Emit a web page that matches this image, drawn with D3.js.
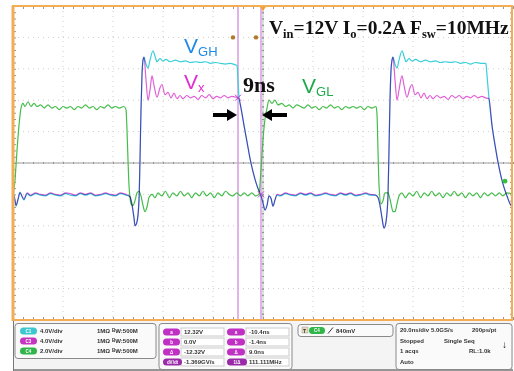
<!DOCTYPE html>
<html>
<head>
<meta charset="utf-8">
<script src="https://cdn.jsdelivr.net/npm/d3@7"></script>
<style>
  body { margin: 0; background: #fff; }
  svg { display: block; }
  .trace { fill: none; stroke-width: 1.2; mix-blend-mode: multiply; stroke-linejoin: round; }
  .panel text { font-family: "Liberation Sans", Arial, sans-serif; font-weight: bold; font-size: 6px; fill: #333; }
</style>
</head>
<body>
<svg id="scope" width="514" height="371"></svg>
<script>
// time in ns (20 ns/div, 10 div), value in volts
const vgh = [
  [0,0.5],[0.8,-0.7],[1.2,-1.5],[2,-0.7],[2.8,0.3],[3.6,-0.3],[4.4,-0.7],[5.6,0.1],[7,-0.2],[9,0.1],
  [11,-0.1],[13,-0.2],[15,0.1],[17,-0.1],[19,-0.2],[21,0.1],[23,-0.1],[25,-0.2],[27,0.1],[29,-0.1],
  [31,0.1],[33,-0.2],[35,-0.1],[37,0.1],[39,-0.1],[41,-0.2],[43,0.1],[45.2,-0.1],[46.8,-0.3],[47.6,-1.3],
  [48.4,-3.0],[48.8,-4.0],[49.6,-3.5],[50.4,-0.7],[50.8,4.4],[51.2,10.8],[51.6,15.2],[52,17.1],[52.4,17.5],
  [53.2,16.6],[54,16.1],[54.8,17.1],[56,18.3],[56.8,17.6],[57.6,16.9],[58.8,17.3],[60,17.0],[61.2,17.2],
  [62.8,16.9],[65,17.1],[67,16.9],[69,17.0],[71,16.8],[73,16.9],[75,16.8],[77,16.9],[79,16.7],[81,16.8],
  [83,16.7],[85,16.6],[87,16.7],[89,16.5],[89.6,16.4],[90,14.6],[90.4,12.4],
  [91.2,11.0],[92.4,8.8],[93.6,6.7],[94.8,4.6],[96,2.9],[97.2,1.5],[98.4,0.4],[99.2,-0.2],[100,-1.1],
  [100.8,-2.0],[101.6,-1.4],[102.4,-0.2],[103.2,-0.5],[104,-1.5],[104.8,-0.7],[105.6,-0.1],[107,-0.2],
  [109,0.1],[111,-0.1],[113,-0.2],[115,0.1],[117,-0.1],[119,0.1],[121,-0.2],[123,-0.1],[125,0.1],[127,-0.1],
  [129,-0.2],[131,0.1],[133,-0.1],[135,0.1],[137,-0.2],[139,-0.1],[141,0.1],[143,-0.1],[145,-0.1],
  [146,-0.4],[146.8,-1.4],[147.6,-3.0],[148.4,-4.3],[149.2,-3.5],[150,-0.1],[150.4,5.7],[150.8,12.0],
  [151.2,15.8],[151.6,17.1],[152,17.5],[152.8,16.6],[153.6,16.1],[154.4,17.1],[155.6,18.3],[156.4,17.6],
  [157.2,16.9],[158.4,17.3],[159.6,17.0],[161,17.2],[163,16.9],[165,17.1],[167,16.9],[169,17.0],[171,16.8],
  [173,16.9],[175,16.8],[177,16.9],[179,16.7],[181,16.8],[183,16.6],[185,16.8],[187,16.7],[189,16.7],
  [189.2,16.6],[189.6,15.2],[190.4,12.2],[191.6,8.8],[192.8,6.3],[194,4.1],[195.2,2.3],[196.4,0.9],
  [197.6,-0.2],[198.8,-1.2],[200,-1.7]
];

const vx = [
  [0,0.3],[0.8,-0.8],[1.2,-1.4],[2,-0.6],[2.8,0.2],[3.6,-0.2],[4.4,-0.6],[5.6,0.2],[7,-0.1],[9,0.2],
  [11,0.0],[13,-0.1],[15,0.2],[17,0.0],[19,-0.1],[21,0.2],[23,0.1],[25,-0.1],[27,0.2],[29,0.0],
  [31,0.2],[33,-0.1],[35,0.0],[37,0.2],[39,0.0],[41,-0.1],[43,0.2],[45.2,0.0],[46.8,-0.3],[47.6,-1.3],
  [48.4,-3.0],[48.8,-4.0],[49.6,-3.5],[50.4,-0.7],[50.8,4.4],[51.2,10.8],[51.6,15.2],[52,17.1],[52.4,17.5],
  [53.2,14.6],[54,12.0],[54.8,13.3],[55.6,15.1],[56.4,13.9],[57.6,12.4],[58.8,13.6],[59.6,14.0],[60.8,12.7],
  [62,13.0],[63.2,12.3],[64.4,12.9],[65.6,12.2],[66.8,12.6],[68,12.2],[69.5,12.6],[71,12.3],[72.5,12.5],
  [74,12.1],[75.5,12.6],[77,12.3],[78.5,12.7],[80,12.2],[81.5,12.5],[83,12.3],[84.5,12.6],[86,12.3],
  [87.5,12.5],[89,12.4],[90.4,12.2],
  [91.2,11.0],[92.4,8.8],[93.6,6.7],[94.8,4.6],[96,2.9],[97.2,1.5],[98.4,0.4],[99.2,-0.2],[100,-1.1],
  [100.8,-2.0],[101.6,-1.4],[102.4,-0.2],[103.2,-0.5],[104,-1.5],[104.8,-0.7],[105.6,0.0],[107,-0.1],
  [109,0.2],[111,0.0],[113,-0.1],[115,0.2],[117,0.0],[119,0.2],[121,-0.1],[123,0.0],[125,0.2],[127,0.0],
  [129,-0.1],[131,0.2],[133,0.0],[135,0.2],[137,-0.1],[139,0.0],[141,0.2],[143,0.0],[145,-0.1],
  [146,-0.4],[146.8,-1.4],[147.6,-3.0],[148.4,-4.3],[149.2,-3.5],[150,-0.1],[150.4,5.7],[150.8,12.0],
  [151.2,15.8],[151.6,17.1],[152,17.5],[152.8,14.6],[153.6,12.0],[154.4,13.3],[155.6,15.1],[156.4,13.9],
  [157.6,12.4],[158.8,13.6],[159.6,14.0],[160.8,12.7],[162,13.0],[163.2,12.3],[164.4,12.9],[165.6,12.2],
  [166.8,12.6],[168,12.2],[169.5,12.6],[171,12.3],[172.5,12.5],[174,12.1],[175.5,12.6],[177,12.3],
  [178.5,12.6],[180,12.2],[181.5,12.5],[183,12.3],[184.5,12.6],[186,12.3],[187.5,12.5],[189,12.3],
  [190.4,12.2],[191.6,8.8],[192.8,6.3],[194,4.1],[195.2,2.3],[196.4,0.9],[197.6,-0.2],[198.8,-1.2],[200,-1.7]
];

const vgl = [
  [0,-0.1],[0.8,0.9],[1.6,2.8],[2.4,4.4],[3.2,5.5],[4,5.8],[4.8,5.6],[6,5.9],[7.2,5.6],[8.4,5.8],
  [9.6,5.6],[11,5.7],[12.5,5.5],[14,5.7],[15.5,5.5],[17,5.6],[18.5,5.4],[20,5.6],[21.5,5.5],[23,5.6],
  [24.5,5.4],[26,5.6],[27.5,5.5],[29,5.7],[30.5,5.5],[32,5.6],[33.5,5.4],[35,5.6],[36.5,5.5],[38,5.7],
  [39.5,5.5],[41,5.6],[42.5,5.5],[44.4,5.6],[45.2,5.4],[45.6,4.1],[46,2.2],[46.4,0.6],[46.8,-0.2],
  [47.2,-0.6],[48,-0.7],[48.8,-0.4],[49.6,0.1],[50.4,0.2],[51.2,-0.1],[52,-0.7],[52.8,-1.1],[53.6,-0.8],
  [54.4,-0.2],[55.6,0.0],[56.8,-0.2],[58,0.1],[59.5,-0.1],[61,0.2],[62.5,-0.2],[64,0.1],[65.5,-0.1],
  [67,0.2],[68.5,-0.1],[70,0.1],[71.5,-0.2],[73,0.1],[74.5,-0.1],[76,0.2],[77.5,-0.1],[79,0.1],
  [80.5,-0.2],[82,0.1],[83.5,-0.1],[85,0.2],[86.5,0.0],[88,-0.1],[89.5,0.1],[91,-0.1],[92.5,0.1],
  [94,-0.1],[95.5,0.1],[97,-0.1],[98.4,0.0],[99.2,1.6],[100,3.5],[100.8,4.8],[101.6,5.5],[102.4,6.0],
  [103.6,5.8],[104.8,6.0],[106,5.7],[107.5,5.8],[109,5.6],[110.5,5.7],[112,5.5],[113.5,5.7],[115,5.6],
  [116.5,5.5],[118,5.7],[119.5,5.5],[121,5.6],[122.5,5.4],[124,5.6],[125.5,5.5],[127,5.7],[128.5,5.5],
  [130,5.6],[131.5,5.4],[133,5.6],[134.5,5.5],[136,5.6],[137.5,5.5],[139,5.6],[140.5,5.4],[142,5.6],
  [143.5,5.5],[145.2,5.6],[145.6,5.1],[146,2.8],[146.4,0.6],[147.2,-0.6],[148,-0.4],[148.8,0.1],
  [150,0.1],[151.2,-0.6],[152,-1.1],[152.8,-1.1],[153.6,-0.6],[154.4,-0.1],[155.5,0.1],[157,-0.2],
  [158.5,0.1],[160,-0.1],[161.5,0.2],[163,-0.2],[164.5,0.1],[166,-0.1],[167.5,0.2],[169,-0.1],
  [170.5,0.1],[172,-0.2],[173.5,0.1],[175,-0.1],[176.5,0.2],[178,-0.1],[179.5,0.1],[181,-0.2],
  [182.5,0.1],[184,-0.1],[185.5,0.1],[187,-0.2],[188.5,0.1],[190,-0.1],[191.5,0.1],[193,-0.1],
  [194.5,0.1],[196,-0.1],[197.5,0.1],[200,0.0]
];

// channel setup: volts/div and vertical position (div)
const channels = [
  { name: "C4", data: vgl, scale: 2.0, pos: -1, color: "#45bd4a", opacity: 1 },
  { name: "C1", data: vgh, scale: 4.0, pos: -1, color: "#3ccfda", opacity: 1 },
  { name: "C3", data: vx,  scale: 4.0, pos: -1, color: "#d83acc", opacity: 0.8 }
];

const cursorTimes = [90.0, 99.2];   // ns
const cursorVolts = [12.32, 0.0];

const chanRows = [
  ["C1", "4.0V/div", "#3cc6cf"],
  ["C3", "4.0V/div", "#c535c0"],
  ["C4", "2.0V/div", "#2fb548"]
];
const cursorRows = [
  ["a", "12.32V", "a", "-10.4ns"],
  ["b", "0.0V", "b", "-1.4ns"],
  ["\u0394", "-12.32V", "\u0394", "9.0ns"],
  ["dV/dt", "-1.369GV/s", "1/\u0394", "111.111MHz"]
];
const acqRows = [
  ["20.0ns/div", "5.0GS/s", "200ps/pt"],
  ["Stopped", "Single Seq", ""],
  ["1 acqs", "", "RL:1.0k"],
  ["Auto", "", ""]
];

const svg = d3.select("#scope");
const L = 13, R = 513, T = 6, B = 320;
const x = d3.scaleLinear().domain([0, 200]).range([L, R]);
const yDiv = d3.scaleLinear().domain([-5, 5]).range([B, T]);
const cx = (L + R) / 2, cy = yDiv(0);

// plot background
svg.append("rect").attr("x", L).attr("y", T).attr("width", R - L).attr("height", B - T).attr("fill", "#fff");

// dotted graticule
const grid = svg.append("g").attr("stroke", "#cdcdcd").attr("stroke-dasharray", "1,4");
grid.selectAll(".gv").data(d3.range(20, 200, 20)).join("line")
  .attr("x1", d => x(d)).attr("x2", d => x(d)).attr("y1", T).attr("y2", B);
grid.selectAll(".gh").data(d3.range(-4, 5, 1)).join("line")
  .attr("y1", d => yDiv(d)).attr("y2", d => yDiv(d)).attr("x1", L).attr("x2", R);

// centre lines
svg.append("line").attr("x1", L).attr("x2", R).attr("y1", cy).attr("y2", cy).attr("stroke", "#9c9c9c");
svg.append("line").attr("x1", cx).attr("x2", cx).attr("y1", T).attr("y2", B).attr("stroke", "#c4c4c4");

// minor ticks via axes
const minorT = d3.range(0, 200.1, 4);
const minorV = d3.range(-5, 5.01, 0.2);
function tickAxis(axis, tr) {
  const g = svg.append("g").attr("transform", tr).call(axis);
  g.select(".domain").remove();
  g.selectAll("line").attr("stroke", "#949494");
  g.selectAll("text").remove();
}
tickAxis(d3.axisBottom(x).tickValues(minorT).tickSize(3).tickFormat(""), `translate(0,${T})`);
tickAxis(d3.axisTop(x).tickValues(minorT).tickSize(3).tickFormat(""), `translate(0,${B})`);
tickAxis(d3.axisTop(x).tickValues(minorT).tickSize(2).tickFormat(""), `translate(0,${cy + 1})`);
tickAxis(d3.axisBottom(x).tickValues(minorT).tickSize(2).tickFormat(""), `translate(0,${cy - 1})`);
tickAxis(d3.axisRight(yDiv).tickValues(minorV).tickSize(3).tickFormat(""), `translate(${L},0)`);
tickAxis(d3.axisLeft(yDiv).tickValues(minorV).tickSize(3).tickFormat(""), `translate(${R},0)`);
tickAxis(d3.axisLeft(yDiv).tickValues(minorV).tickSize(2).tickFormat(""), `translate(${cx + 1},0)`);
tickAxis(d3.axisRight(yDiv).tickValues(minorV).tickSize(2).tickFormat(""), `translate(${cx - 1},0)`);

// cursors
svg.selectAll(".cur").data(cursorTimes).join("line")
  .attr("x1", d => x(d)).attr("x2", d => x(d)).attr("y1", T).attr("y2", B)
  .attr("stroke", "#d9a2e3").attr("stroke-width", 1.6);

// traces
const traces = svg.append("g").attr("clip-path", "url(#clip)");
svg.append("clipPath").attr("id", "clip").append("rect")
  .attr("x", L).attr("y", T).attr("width", R - L).attr("height", B - T);
channels.forEach(ch => {
  const line = d3.line().x(d => x(d[0])).y(d => yDiv(d[1] / ch.scale + ch.pos)).curve(d3.curveMonotoneX);
  traces.append("path").datum(ch.data).attr("class", "trace").attr("stroke", ch.color)
    .attr("stroke-opacity", ch.opacity).attr("d", line);
});

// cursor cross marks on Vx
const vxCh = channels[2];
cursorTimes.forEach((t, i) => {
  const px = x(t), py = yDiv(cursorVolts[i] / vxCh.scale + vxCh.pos);
  svg.append("path").attr("d", `M${px - 3},${py - 3}L${px + 3},${py + 3}M${px - 3},${py + 3}L${px + 3},${py - 3}`)
    .attr("stroke", "#b040c0").attr("stroke-width", 1);
});

// cursor handle dots, trigger marker, level marker
svg.selectAll(".hdl").data(cursorTimes).join("circle")
  .attr("cx", d => x(d) - 5).attr("cy", yDiv(4)).attr("r", 2.2).attr("fill", "#b07a2a");
svg.append("path").attr("d", `M${cx - 3.5},${T}L${cx + 3.5},${T}L${cx},${T + 5}Z`).attr("fill", "#f0a030");
svg.append("circle").attr("cx", x(196.8)).attr("cy", yDiv(0.84 / 2 - 1)).attr("r", 2.4).attr("fill", "#31c331");

// orange frame
svg.append("rect").attr("x", L).attr("y", T).attr("width", R - L - 1).attr("height", B - T)
  .attr("fill", "none").attr("stroke", "#f3ae55").attr("stroke-width", 2);
svg.append("line").attr("x1", L).attr("x2", L).attr("y1", T).attr("y2", B + 1)
  .attr("stroke", "#f3ae55").attr("stroke-width", 3);

// labels
function label(xp, yp, main, sub, color, size) {
  const t = svg.append("text").attr("x", xp).attr("y", yp)
    .attr("font-family", "Liberation Sans, Arial, sans-serif").attr("fill", color).attr("font-size", size);
  t.append("tspan").text(main);
  t.append("tspan").attr("font-size", size * 0.62).attr("dy", 3).text(sub);
}
label(184, 53, "V", "GH", "#1f8ae8", 21);
label(184, 89, "V", "x", "#e22cd0", 21);
label(302, 93, "V", "GL", "#1fa94b", 21);

svg.append("text").attr("x", 243).attr("y", 92).attr("font-family", "Liberation Serif, Times New Roman, serif")
  .attr("font-weight", "bold").attr("font-size", 22).attr("fill", "#111").text("9ns");

const title = svg.append("text").attr("x", 269).attr("y", 34)
  .attr("font-family", "Liberation Serif, Times New Roman, serif").attr("font-weight", "bold")
  .attr("font-size", 19.5).attr("fill", "#111");
[["V", 0], ["in", 1], ["=12V I", 0], ["o", 1], ["=0.2A F", 0], ["sw", 1], ["=10MHz", 0]].forEach((p, i, arr) => {
  const prevSub = i > 0 && arr[i - 1][1];
  title.append("tspan").attr("font-size", p[1] ? 12.5 : null)
    .attr("dy", p[1] ? 4 : (prevSub ? -4 : 0)).text(p[0]);
});

// arrows
function arrow(x0, x1, yp) {
  const dir = Math.sign(x1 - x0), hl = 10;
  svg.append("line").attr("x1", x0).attr("x2", x1 - dir * hl).attr("y1", yp).attr("y2", yp)
    .attr("stroke", "#000").attr("stroke-width", 4);
  svg.append("path").attr("d", `M${x1},${yp}L${x1 - dir * hl},${yp - 6}L${x1 - dir * hl},${yp + 6}Z`).attr("fill", "#000");
}
arrow(213, 237, 115);
arrow(287, 262, 115);

// bottom status panel
const panel = svg.append("g").attr("class", "panel");
panel.append("rect").attr("x", L).attr("y", 321).attr("width", R - L).attr("height", 50).attr("fill", "#f4f4f4");
panel.append("line").attr("x1", L).attr("x2", R).attr("y1", 370).attr("y2", 370).attr("stroke", "#777").attr("stroke-width", 1.5);
panel.append("line").attr("x1", L + 0.5).attr("x2", L + 0.5).attr("y1", 321).attr("y2", 371).attr("stroke", "#777");

function box(x0, y0, w, h) {
  panel.append("rect").attr("x", x0).attr("y", y0).attr("width", w).attr("height", h).attr("rx", 3)
    .attr("fill", "#fafafa").attr("stroke", "#8a8a8a").attr("stroke-width", 1);
}
function pill(x0, yc, w, color, txt) {
  panel.append("rect").attr("x", x0).attr("y", yc - 3.5).attr("width", w).attr("height", 7).attr("rx", 3.5).attr("fill", color);
  panel.append("text").attr("x", x0 + w / 2).attr("y", yc + 1.6).attr("text-anchor", "middle")
    .style("font-size", "4.5px").style("fill", "#fff").text(txt);
}

box(15, 323.5, 141, 35);
chanRows.forEach((r, i) => {
  const yc = 331 + i * 10;
  pill(20, yc, 17, r[2], r[0]);
  panel.append("text").attr("x", 40).attr("y", yc + 2).text(r[1]);
  panel.append("text").attr("x", 97).attr("y", yc + 2).text("1M\u03a9");
  const bw = panel.append("text").attr("x", 112).attr("y", yc + 2);
  bw.append("tspan").attr("dy", -1.5).style("font-size", "4.5px").text("B");
  bw.append("tspan").attr("dy", 1.5).text("W:500M");
});

box(159, 323.5, 133, 46);
cursorRows.forEach((r, i) => {
  const yc = 332 + i * 10;
  panel.append("rect").attr("x", 181).attr("y", yc - 4).attr("width", 43).attr("height", 8).attr("fill", "#fff").attr("stroke", "#ccc");
  panel.append("rect").attr("x", 246).attr("y", yc - 4).attr("width", 43).attr("height", 8).attr("fill", "#fff").attr("stroke", "#ccc");
  pill(163, yc, i === 3 ? 19 : 17, i === 3 ? "#9a2aa8" : "#c030c4", r[0]);
  pill(227, yc, i === 3 ? 20 : 18, i === 3 ? "#9a2aa8" : "#c030c4", r[2]);
  panel.append("text").attr("x", 184).attr("y", yc + 2).text(r[1]);
  panel.append("text").attr("x", 249).attr("y", yc + 2).text(r[3]);
});

box(298, 324.5, 95, 12);
panel.append("rect").attr("x", 302).attr("y", 327).attr("width", 6).attr("height", 6).attr("fill", "#e8d9b8").attr("stroke", "#999").attr("stroke-width", 0.5);
panel.append("text").attr("x", 303).attr("y", 332.5).style("font-size", "5px").text("T");
pill(309, 330.5, 16, "#2fb548", "C4");
panel.append("path").attr("d", "M328,333.5L333,327.5").attr("stroke", "#333").attr("stroke-width", 1);
panel.append("text").attr("x", 336).attr("y", 332.5).text("840mV");

box(396, 323.5, 116, 46);
const acqX = [400, 431, 472];
acqRows.forEach((r, i) => {
  r.forEach((s, j) => {
    if (!s) return;
    let xp = acqX[j];
    if (i === 1 && j === 1) xp = 444;
    if (i === 2 && j === 2) xp = 469;
    panel.append("text").attr("x", xp).attr("y", 332 + i * 10.5).text(s);
  });
});
panel.append("text").attr("x", 502).attr("y", 348).style("font-size", "10px").style("fill", "#111").text("\u2193");
</script>
</body>
</html>
